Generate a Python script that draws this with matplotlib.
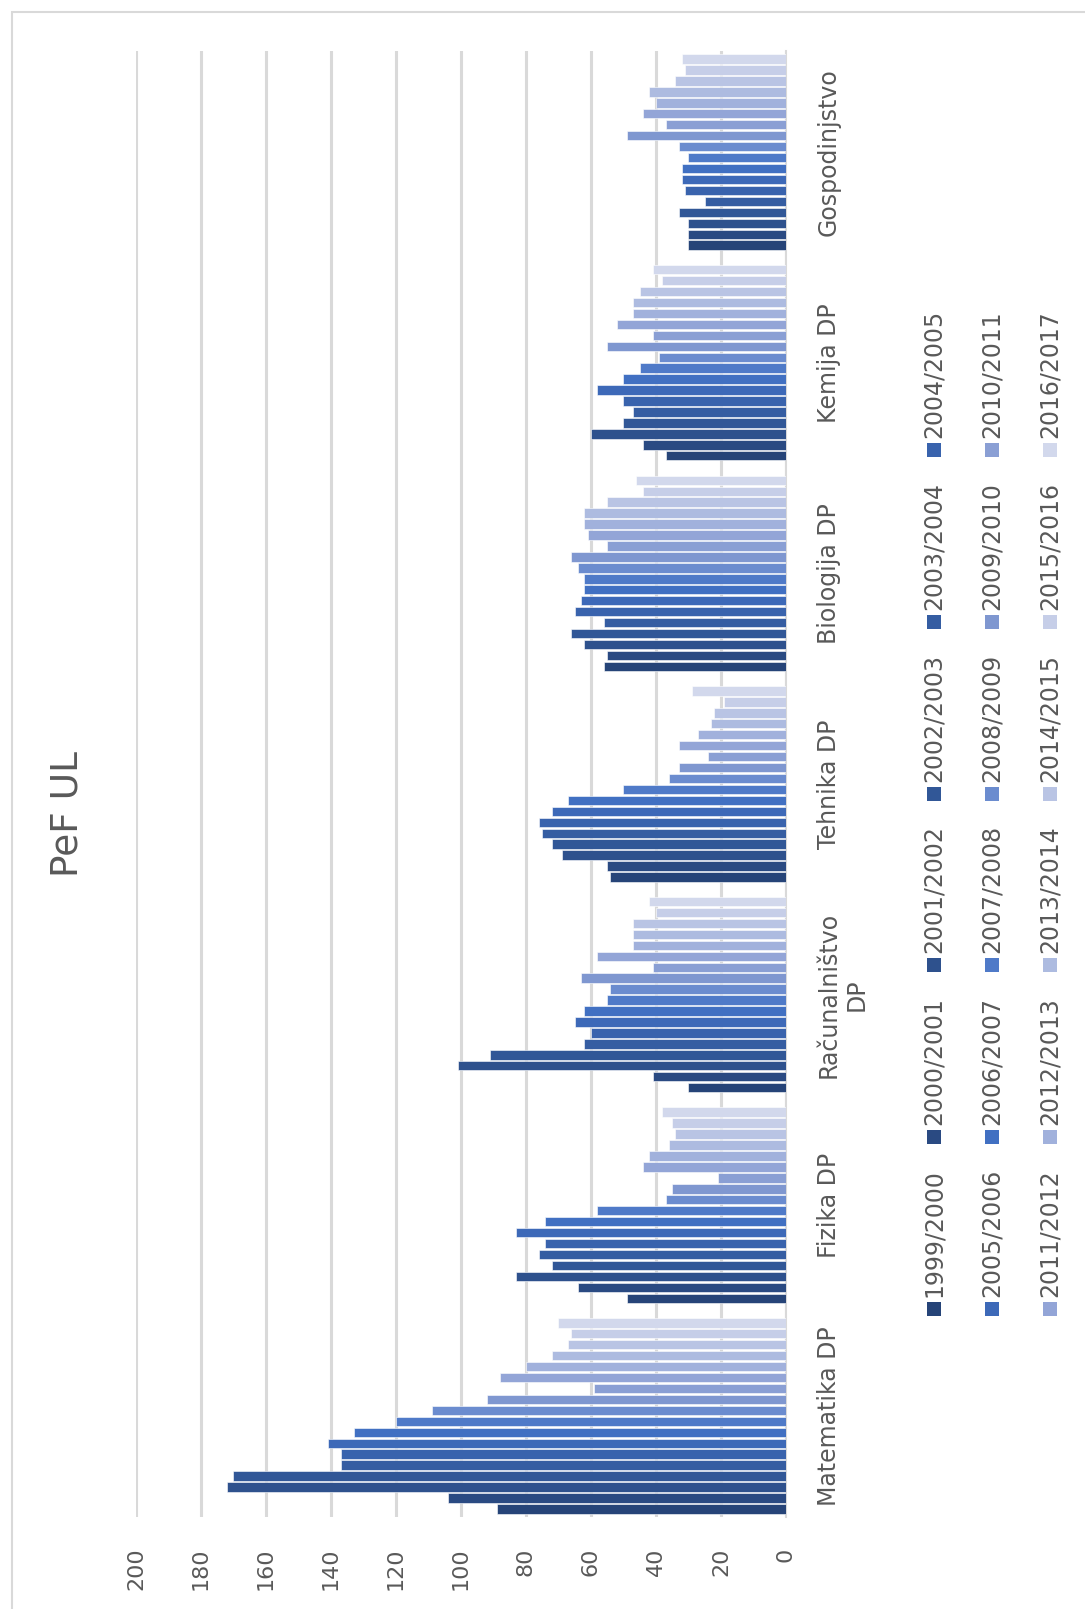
import matplotlib
matplotlib.use('Agg')
import matplotlib.pyplot as plt
from matplotlib.patches import Rectangle
import numpy as np

plt.rcParams['font.family'] = ['Liberation Sans Narrow', 'DejaVu Sans']

# categories, bottom to top as drawn (original column chart turned on its side)
categories = ['Matematika DP', 'Fizika DP', 'Računalništvo\nDP', 'Tehnika DP',
              'Biologija DP', 'Kemija DP', 'Gospodinjstvo']
years = ['1999/2000', '2000/2001', '2001/2002', '2002/2003', '2003/2004', '2004/2005',
         '2005/2006', '2006/2007', '2007/2008', '2008/2009', '2009/2010', '2010/2011',
         '2011/2012', '2012/2013', '2013/2014', '2014/2015', '2015/2016', '2016/2017']

# values per category, one per year (1999/2000 .. 2016/2017)
matematika = [89, 104, 172, 170, 137, 137, 141, 133, 120, 109, 92, 59, 88, 80, 72, 67, 66, 70]
fizika = [49, 64, 83, 72, 76, 74, 83, 74, 58, 37, 35, 21, 44, 42, 36, 34, 35, 38]
racunalnistvo = [30, 41, 101, 91, 62, 60, 65, 62, 55, 54, 63, 41, 58, 47, 47, 47, 40, 42]
tehnika = [54, 55, 69, 72, 75, 76, 72, 67, 50, 36, 33, 24, 33, 27, 23, 22, 19, 29]
biologija = [56, 55, 62, 66, 56, 65, 63, 62, 62, 64, 66, 55, 61, 62, 62, 55, 44, 46]
kemija = [37, 44, 60, 50, 47, 50, 58, 50, 45, 39, 55, 41, 52, 47, 47, 45, 38, 41]
gospodinjstvo = [30, 30, 30, 33, 25, 31, 32, 32, 30, 33, 49, 37, 44, 40, 42, 34, 31, 32]

data = np.array([matematika, fizika, racunalnistvo, tehnika, biologija, kemija, gospodinjstvo])

colors = ['#264478', '#2A4A82', '#2E518D', '#315797', '#355DA2', '#3963AD',
          '#3D69B8', '#4170C2', '#4F7AC8', '#6B8CCF', '#7F97D0', '#8A9FD4',
          '#93A5D7', '#A1B1DC', '#ADBBE0', '#B9C4E4', '#C6CEE8', '#D2D8EC']

text_col = '#595959'
grid_col = '#D9D9D9'

fig = plt.figure(figsize=(10.85, 16.09), dpi=100)
ax = fig.add_axes([0.1253, 0.0572, 0.5991, 0.9111])

pitch = 1 / 19.24
nser = len(years)
pos = np.arange(len(categories))
for j in range(nser):
    y = pos - (nser - 1) / 2 * pitch + j * pitch
    ax.barh(y, data[:, j], height=pitch * 0.86, color=colors[j],
            edgecolor='white', linewidth=0.4, zorder=3)

ax.set_xlim(200, 0)
ax.set_ylim(-0.48, len(categories) - 0.52)
ax.set_xticks(np.arange(0, 201, 20))
ax.xaxis.grid(True, color=grid_col, linewidth=2.2, zorder=0)
ax.set_axisbelow(True)
for s in ['top', 'bottom', 'left']:
    ax.spines[s].set_visible(False)
ax.spines['right'].set_color(grid_col)
ax.spines['right'].set_linewidth(1.5)

ax.tick_params(axis='x', length=0, pad=22, labelsize=16, labelcolor=text_col)
for lab in ax.get_xticklabels():
    lab.set_rotation(90)
    lab.set_va('top')
    lab.set_ha('center')

ax.yaxis.tick_right()
ax.set_yticks(pos)
ax.set_yticklabels(categories, rotation=90, va='center', ha='left',
                   multialignment='center', fontsize=17, color=text_col)
ax.tick_params(axis='y', length=0, pad=22)

# title
fig.text(67 / 1085, 1 - 814 / 1609, 'PeF UL', rotation=90, ha='center', va='center',
         fontsize=27, color=text_col)

# legend, drawn rotated like the rest of the chart
rows_x = [934, 992, 1050]
sq = 14
for k, yr in enumerate(years):
    r, c = divmod(k, 6)
    x = rows_x[r]
    y = 1309 - c * 171.8
    fig.patches.append(Rectangle(((x - sq / 2) / 1085, 1 - (y + sq / 2) / 1609),
                                 sq / 1085, sq / 1609, transform=fig.transFigure,
                                 facecolor=colors[k], edgecolor='none'))
    fig.text(x / 1085, 1 - (y - 12) / 1609, yr, rotation=90, ha='center', va='bottom',
             fontsize=17, color=text_col)

# chart border
fig.patches.append(Rectangle((12 / 1085, -0.01), 1.02, 1 - 12 / 1609 + 0.01,
                             transform=fig.transFigure, fill=False,
                             edgecolor=grid_col, linewidth=1.5))

fig.savefig('out.png', dpi=100, facecolor='white')
